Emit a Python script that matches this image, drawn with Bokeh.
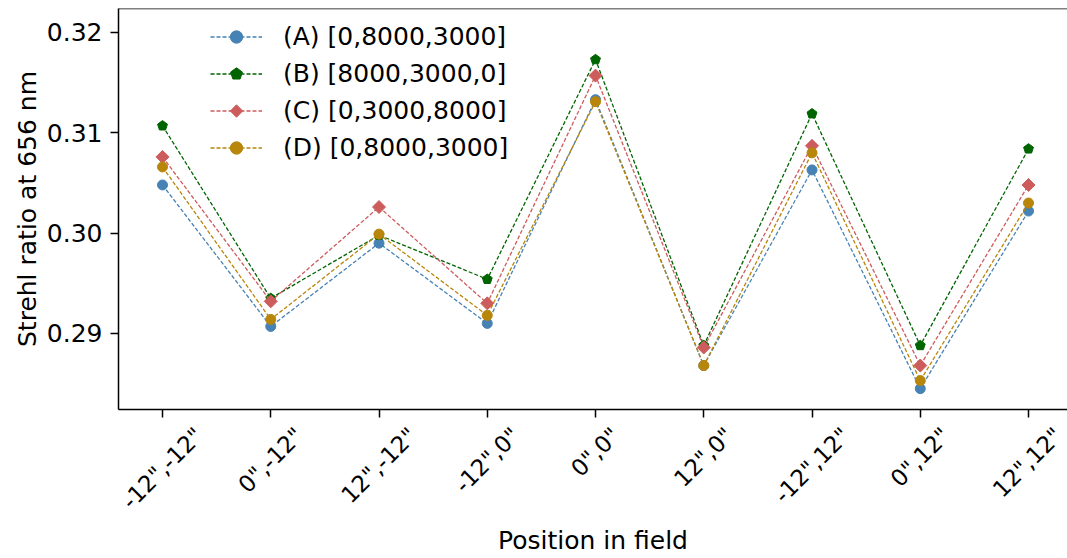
from math import pi
from bokeh.plotting import figure
from bokeh.models import (Range1d, FixedTicker, PrintfTickFormatter, Legend,
                          LegendItem, Span, ColumnDataSource, LinearAxis)
from bokeh.embed import file_html
from bokeh.resources import INLINE

positions = ['-12",-12"', '0",-12"', '12",-12"', '-12",0"', '0",0"',
             '12",0"', '-12",12"', '0",12"', '12",12"']
x_index = [0, 1, 2, 3, 4, 5, 6, 7, 8]
strehl_A = [0.3048, 0.2907, 0.2990, 0.2910, 0.3133, 0.2868, 0.3063, 0.2845, 0.3022]
strehl_B = [0.3107, 0.2935, 0.2998, 0.2954, 0.3173, 0.2888, 0.3119, 0.2888, 0.3084]
strehl_C = [0.3076, 0.2932, 0.3026, 0.2930, 0.3157, 0.2886, 0.3087, 0.2868, 0.3048]
strehl_D = [0.3066, 0.2914, 0.2999, 0.2918, 0.3131, 0.2868, 0.3080, 0.2853, 0.3030]
labels = ["(A) [0,8000,3000]", "(B) [8000,3000,0]", "(C) [0,3000,8000]", "(D) [0,8000,3000]"]
y_ticks = [0.29, 0.30, 0.31, 0.32]

FONT = "DejaVu Sans"
FS = "25px"
XFS = 23
X0, X1 = -0.4065, 8.36
Y0, Y1 = 0.28242, 0.32239
FRAME_W = 1067 - 118

p = figure(width=1067, height=558, output_backend="svg", toolbar_location=None,
           x_range=Range1d(X0, X1), y_range=Range1d(Y0, Y1),
           min_border_left=118, min_border_right=0, min_border_top=8,
           min_border_bottom=149)
p.outline_line_color = None
p.grid.visible = False
p.background_fill_color = "white"

colors = ["#4682b4", "#006400", "#cd5c5c", "#b8860b"]
series = [strehl_A, strehl_B, strehl_C, strehl_D]
markers = ["circle", "pentagon", "diamond", "circle"]

items = []
for lab, vals, col, mk in zip(labels, series, colors, markers):
    src = ColumnDataSource(dict(x=x_index, y=vals))
    ln = p.line("x", "y", source=src, line_color=col, line_width=1.3, line_dash="4 2")
    if mk == "circle":
        m = p.scatter("x", "y", source=src, marker="circle", size=10,
                      fill_color=col, line_color=col)
    elif mk == "diamond":
        m = p.ngon("x", "y", source=src, radius=6.5, radius_units="screen", n=4,
                   angle=0, fill_color=col, line_color=col)
    else:
        m = p.ngon("x", "y", source=src, radius=5.2, radius_units="screen", n=5,
                   angle=0, fill_color=col, line_color=col)
    items.append(LegendItem(label=lab, renderers=[ln, m]))

legend = Legend(items=items, location=(92, 246), border_line_color=None,
                background_fill_alpha=0, label_text_font=FONT, label_text_font_size=FS,
                label_text_color="black",
                glyph_width=52, glyph_height=31, label_height=31, spacing=6,
                padding=0, margin=0, label_standoff=21)
p.add_layout(legend)

top = Span(location=Y1, dimension="width", line_color="black", line_width=1.5)
p.add_layout(top)

# axis 1: ticks only
p.xaxis.ticker = FixedTicker(ticks=x_index)
p.xaxis.major_label_overrides = {i: "" for i in x_index}
p.xaxis.major_label_text_font_size = "1px"
p.xaxis.major_label_standoff = 0

# axis 2: rotated labels, centred on each tick (Bokeh anchors rotated labels at
# their right end, so shift each anchor by half the rotated text width)
char_em = {'-': 0.361, '1': 0.636, '2': 0.636, '0': 0.636, '"': 0.46, ',': 0.318}
px_per_unit = FRAME_W / (X1 - X0)
label_ticks = []
for i, s in zip(x_index, positions):
    text_w = sum(char_em[c] for c in s) * XFS
    label_ticks.append(round(i + 0.3536 * text_w / px_per_unit, 4))
lab_axis = LinearAxis(ticker=FixedTicker(ticks=label_ticks),
                      major_label_overrides={t: s for t, s in zip(label_ticks, positions)},
                      major_label_orientation=pi / 4,
                      axis_line_color=None, major_tick_line_color=None,
                      minor_tick_line_color=None, major_tick_in=0, major_tick_out=0,
                      major_label_standoff=14,
                      major_label_text_font=FONT, major_label_text_font_size=f"{XFS}px",
                      major_label_text_color="black",
                      axis_label="Position in field", axis_label_standoff=0,
                      axis_label_text_font=FONT, axis_label_text_font_size=FS,
                      axis_label_text_font_style="normal", axis_label_text_color="black")
p.add_layout(lab_axis, "below")

p.yaxis.ticker = FixedTicker(ticks=y_ticks)
p.yaxis.formatter = PrintfTickFormatter(format="%.2f")

for ax in (p.xaxis[0], p.yaxis[0]):
    ax.minor_tick_line_color = None
    ax.major_tick_in = 0
    ax.major_tick_out = 8
    ax.major_tick_line_width = 1.5
    ax.axis_line_width = 1.5
    ax.axis_label_text_font = FONT
    ax.axis_label_text_font_size = FS
    ax.axis_label_text_font_style = "normal"
    ax.axis_label_text_color = "black"

p.yaxis.major_label_text_font = FONT
p.yaxis.major_label_text_font_size = FS
p.yaxis.major_label_text_color = "black"
p.yaxis.axis_label = "Strehl ratio at 656 nm"
p.yaxis.major_label_standoff = 8
p.yaxis.axis_label_standoff = 2

open("out.html", "w").write(file_html(p, INLINE))
